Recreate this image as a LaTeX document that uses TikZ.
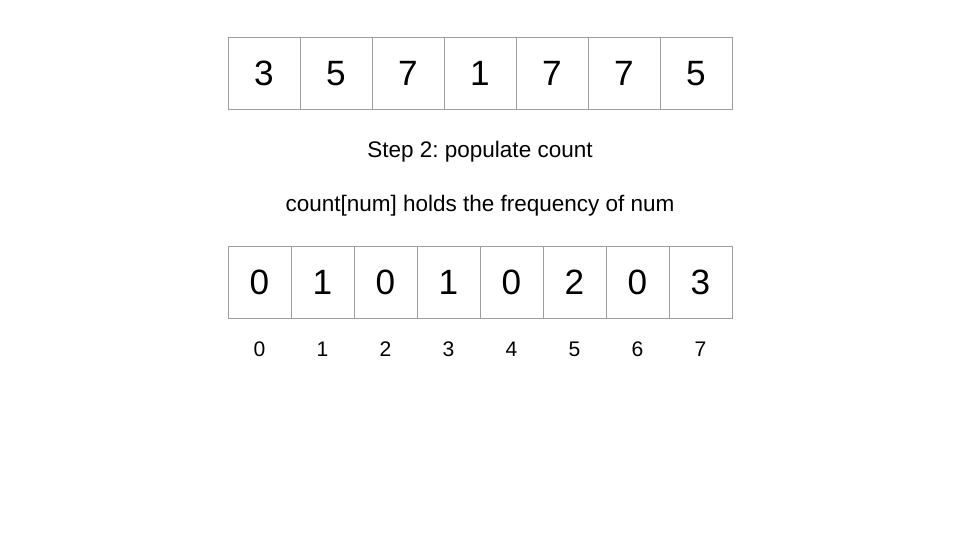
\documentclass[tikz,border=0pt]{standalone}
\usepackage{fontspec}
\setmainfont{Liberation Sans}
\usetikzlibrary{positioning}
\definecolor{cellgray}{RGB}{158,158,158}
\frenchspacing

\begin{document}
\begin{tikzpicture}[x=0.025cm,y=-0.025cm,
  cellbox/.style={draw=cellgray,line width=0.7pt,minimum height=1.8cm,
    inner sep=0pt,text height=17.9pt,text depth=0pt,
    font=\fontsize{25}{30}\selectfont},
  caption/.style={inner sep=0pt,text height=11.5pt,text depth=3.4pt,
    font=\fontsize{16}{19}\selectfont},
  idx/.style={inner sep=0pt,text height=10.7pt,text depth=0pt,
    font=\fontsize{15}{18}\selectfont}]
  \useasboundingbox (0,0) rectangle (960,540);

  % The input array.
  \foreach \v [count=\i from 0] in {3,5,7,1,7,7,5}
    \node[cellbox,minimum width=1.8cm] (in\i) at ({264+72*\i},73) {\v};

  % The two captions.
  \node[caption] (step) at (480,152) {Step 2: populate count};
  \node[caption] (note) at (480,206) {count[num] holds the frequency of num};

  % The count array and its indices.
  \foreach \v [count=\i from 0] in {0,1,0,1,0,2,0,3} {
    \node[cellbox,minimum width=1.575cm] (cnt\i) at ({259.5+63*\i},282) {\v};
    \node[idx] (ix\i) at ({259.5+63*\i},349) {\i};
  }
\end{tikzpicture}
\end{document}
